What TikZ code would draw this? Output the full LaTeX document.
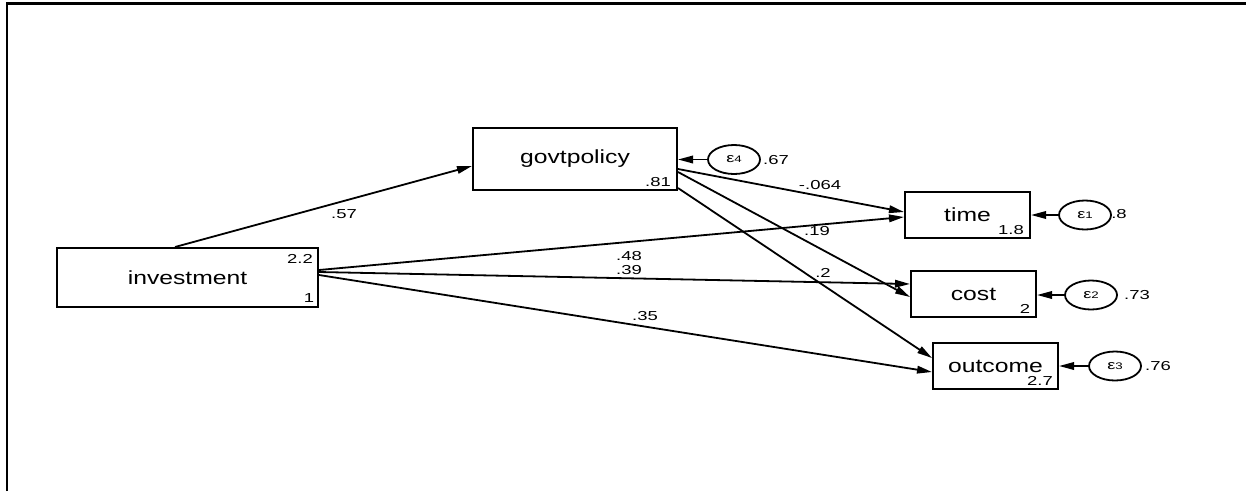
\documentclass[tikz,border=0pt]{standalone}
\usepackage{fontspec}
\setmainfont{Liberation Sans}
\usepackage{graphicx}
\usetikzlibrary{arrows.meta,shapes.geometric}
% horizontally widened text, as in the exported path diagram
\newcommand\wideA[1]{\scalebox{1.3}[1]{#1}}
\newcommand\wideB[1]{\scalebox{1.42}[1]{#1}}
\newcommand\errlbl[1]{\scalebox{1.4}[1]{{\fontsize{13}{13}\selectfont ε}{\fontsize{9.5}{9.5}\selectfont #1}}}

\begin{document}
\begin{tikzpicture}[x=1pt,y=-1pt,
  var/.style={draw, line width=2pt, rectangle, minimum width=125pt, minimum height=46pt,
              inner sep=0pt, font=\fontsize{19}{19}\selectfont},
  err/.style={draw, line width=1.8pt, ellipse, minimum width=52pt, minimum height=29pt, inner sep=0pt},
  coef/.style={inner sep=0pt, font=\fontsize{13}{13}\selectfont},
  link/.style={line width=1.8pt, -{Triangle[length=15pt,width=7.5pt]}},
]
\useasboundingbox (0,0) rectangle (1246,491);

% outer frame (top and left edges)
\draw[line width=2.5pt] (7,491) -- (7,3.5) -- (1246,3.5);

% observed variables
\node[var, minimum width=261pt, minimum height=59pt] (inv) at (187.5,277.5) {\wideA{investment}};
\node[var, minimum width=204pt, minimum height=62pt] (gov) at (575,159) {\wideA{govtpolicy}};
\node[var] (time) at (967.5,215) {\wideA{time}};
\node[var] (cost) at (973.5,294) {\wideA{cost}};
\node[var] (outc) at (995.5,366) {\wideA{outcome}};

% intercepts / variances inside the boxes
\node[coef] (invvar) at (300,259) {\wideB{2.2}};
\node[coef] (invmean) at (309,298) {\wideB{1}};
\node[coef] (govcons) at (658,182) {\wideB{.81}};
\node[coef] (timecons) at (1011,230) {\wideB{1.8}};
\node[coef] (costcons) at (1025,309) {\wideB{2}};
\node[coef] (outccons) at (1040,381) {\wideB{2.7}};

% error terms
\node[err] (e4) at (734,159.5) {\errlbl{4}};
\node[err] (e1) at (1085,215) {\errlbl{1}};
\node[err] (e2) at (1091,295) {\errlbl{2}};
\node[err] (e3) at (1115,366) {\errlbl{3}};

\node[coef] (e4var) at (776,160) {\wideB{.67}};
\node[coef] (e1var) at (1119,214) {\wideB{.8}};
\node[coef] (e2var) at (1137,295) {\wideB{.73}};
\node[coef] (e3var) at (1158,366) {\wideB{.76}};

\draw[link] (e4) -- (gov.east |- e4);
\draw[link] (e1) -- (time.east |- e1);
\draw[link] (e2) -- (cost.east |- e2);
\draw[link] (e3) -- (outc.east |- e3);

% structural paths
\draw[link] ([xshift=-12.5pt]inv.north) -- ([yshift=-7pt]gov.west);
\draw[link] ([yshift=7.5pt]inv.east) -- ([yshift=-2pt]time.west);
\draw[link] ([yshift=5.5pt]inv.east) -- ([yshift=10pt]cost.west);
\draw[link] ([yshift=2.5pt]inv.east) -- ([yshift=-6pt]outc.west);
\draw[link] ([yshift=-10pt]gov.east) -- ([yshift=3pt]time.west);
\draw[link] ([yshift=-13pt]gov.east) -- ([yshift=-3pt]cost.west);
\draw[link] ([yshift=-29pt]gov.east) -- ([yshift=8pt]outc.west);

% path coefficients
\node[coef] (c57) at (344,214) {\wideB{.57}};
\node[coef] (c064) at (820,185) {\wideB{-.064}};
\node[coef] (c48) at (629,256) {\wideB{.48}};
\node[coef] (c19) at (817,231) {\wideB{.19}};
\node[coef] (c39) at (629,270) {\wideB{.39}};
\node[coef] (c2) at (823,273) {\wideB{.2}};
\node[coef] (c35) at (645,316) {\wideB{.35}};
\end{tikzpicture}
\end{document}
